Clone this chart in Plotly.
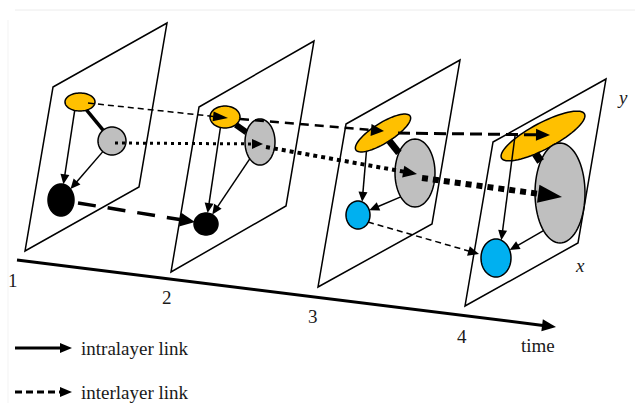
import math
import plotly.graph_objects as go

W, H = 635, 403

# ---- layer planes (corners: top-left, top-right, bottom-right, bottom-left) ----
plane_tl = [(53, 87), (199, 107), (346, 124), (493, 142)]
plane_tr = [(167, 23), (314, 41), (460, 60), (606, 79)]
plane_br = [(139, 187), (286, 206), (432, 224), (578, 243)]
plane_bl = [(25, 251), (171, 272), (318, 287), (465, 306)]

# ---- nodes ----
node_names = ["y1", "g1", "k1", "y2", "g2", "k2", "y3", "g3", "b3", "y4", "g4", "b4"]
node_cx = [80, 112, 61, 225, 260, 206, 383, 415, 358, 543, 560, 496]
node_cy = [102, 141, 200, 117, 142, 224, 133, 173, 215, 136, 193, 258]
node_rx = [15, 14, 13, 15, 15, 12, 32, 20, 12, 47, 25, 15]
node_ry = [9, 14, 16, 11, 23, 11, 10, 34, 14, 13, 50, 19]
node_rot = [0, 0, 0, 0, 0, 0, -32, 0, 0, -28, 0, 0]
YEL, GRY, BLK, BLU = "#FFC000", "#BFBFBF", "#000000", "#00B0F0"
node_color = [YEL, GRY, BLK, YEL, GRY, BLK, YEL, GRY, BLU, YEL, GRY, BLU]

# ---- intralayer links: (src, dst, src offset, dst offset, width, arrow) ----
intra_src = ["y1", "g1", "y2", "g2", "y3", "g3", "y4", "g4", "y1", "y2", "y3", "y4"]
intra_dst = ["k1", "k1", "k2", "k2", "b3", "b3", "b4", "b4", "g1", "g2", "g3", "g4"]
intra_soff = [(-4, 0), (0, 0), (-3, 0), (-3, 6), (-15, 0), (-5, 20), (-28, 0), (-12, 35),
              (0, 0), (0, 0), (0, 0), (-14, 8)]
intra_toff = [(0, 0), (0, 0), (0, 0), (0, 0), (3, 0), (0, 0), (3, 0), (0, 0),
              (0, 0), (0, 0), (0, 0), (-15, -25)]
intra_width = [1.5, 1.5, 1.5, 1.5, 1.5, 1.5, 1.5, 1.5, 3.5, 6, 7, 8]
intra_arrow = [True] * 8 + [False] * 4

# ---- interlayer links ----
inter_src = ["y1", "y2", "y3", "g1", "g2", "g3", "k1", "b3"]
inter_dst = ["y2", "y3", "y4", "g2", "g3", "g4", "k2", "b4"]
inter_soff = [(8, 1), (15, 2), (15, 0), (3, 2), (6, 5), (7, 5), (17, 3), (10, 7)]
inter_toff = [(3, 1), (1, -2), (7, -1), (3, 2), (2, 1), (2, 4), (-11, -2), (-17, -4)]
inter_width = [1.5, 2.5, 3, 3, 4, 6, 3.5, 1.5]
inter_dash = ["6px,4px", "9px,6px", "12px,6px", "3px,4px", "4px,4px", "6px,5px",
              "18px,12px", "6px,4px"]
inter_head = [(15, 5), (13, 6), (14, 6), (11, 5), (14, 6), (24, 9), (15, 7), (11, 5)]

# ---- time axis and labels ----
time_start = (17, 260)
time_tip = (556, 327)
time_labels = ["1", "2", "3", "4"]
time_label_pos = [(13, 280), (167, 297), (313, 316), (462, 336)]
legend_texts = ["intralayer link", "interlayer link"]
legend_y = [348, 392]

FONT = "Liberation Serif, 'Times New Roman', Times, serif"
TXT = "#1a1a1a"

idx = {n: i for i, n in enumerate(node_names)}


def ell_pts(i, n=72):
    cx, cy, a, b = node_cx[i], node_cy[i], node_rx[i], node_ry[i]
    th = math.radians(node_rot[i])
    pts = []
    for k in range(n):
        t = 2 * math.pi * k / n
        x = cx + a * math.cos(t) * math.cos(th) - b * math.sin(t) * math.sin(th)
        y = cy + a * math.cos(t) * math.sin(th) + b * math.sin(t) * math.cos(th)
        pts.append((x, y))
    return pts


def inside(i, p):
    dx, dy = p[0] - node_cx[i], p[1] - node_cy[i]
    th = math.radians(node_rot[i])
    lx = dx * math.cos(th) + dy * math.sin(th)
    ly = -dx * math.sin(th) + dy * math.cos(th)
    return (lx / node_rx[i]) ** 2 + (ly / node_ry[i]) ** 2 <= 1.0


def path_of(pts, close=True):
    s = "M " + " L ".join(f"{x:.2f},{y:.2f}" for x, y in pts)
    return s + (" Z" if close else "")


def head(p0, p1, L, hw):
    dx, dy = p1[0] - p0[0], p1[1] - p0[1]
    d = math.hypot(dx, dy)
    ux, uy = dx / d, dy / d
    bx, by = p1[0] - L * ux, p1[1] - L * uy
    nx, ny = -uy, ux
    tri = [p1, (bx + hw * nx, by + hw * ny), (bx - hw * nx, by - hw * ny)]
    return tri, (bx + 1 * ux, by + 1 * uy)


shapes = []

# faint page borders
shapes.append(dict(type="line", x0=15, y0=10, x1=635, y1=10,
                   line=dict(color="#ececec", width=1)))
shapes.append(dict(type="line", x0=8, y0=20, x1=8, y1=403,
                   line=dict(color="#f3f3f3", width=1)))

# planes
for tl, tr, br, bl in zip(plane_tl, plane_tr, plane_br, plane_bl):
    shapes.append(dict(type="path", path=path_of([tl, tr, br, bl]),
                       line=dict(color="#000", width=1.5), fillcolor="rgba(0,0,0,0)"))

# time axis
tri, base = head(time_start, time_tip, 14, 6)
shapes.append(dict(type="line", x0=time_start[0], y0=time_start[1], x1=base[0], y1=base[1],
                   line=dict(color="#000", width=3)))
shapes.append(dict(type="path", path=path_of(tri), fillcolor="#000", line=dict(width=0)))

# nodes
for i in range(len(node_names)):
    shapes.append(dict(type="path", path=path_of(ell_pts(i)), fillcolor=node_color[i],
                       line=dict(color="#000", width=1.5)))

# intralayer links
for s, t, so, to, w, arr in zip(intra_src, intra_dst, intra_soff, intra_toff,
                                intra_width, intra_arrow):
    i, j = idx[s], idx[t]
    P = (node_cx[i] + so[0], node_cy[i] + so[1])
    Q = (node_cx[j] + to[0], node_cy[j] + to[1])
    N = 2000
    seg = [(P[0] + (Q[0] - P[0]) * k / N, P[1] + (Q[1] - P[1]) * k / N) for k in range(N + 1)]
    start = next(p for p in seg if not inside(i, p))
    end = next(p for p in reversed(seg) if not inside(j, p))
    if arr:
        tri, base = head(start, end, 10, 4.5)
        shapes.append(dict(type="line", x0=start[0], y0=start[1], x1=base[0], y1=base[1],
                           line=dict(color="#000", width=w)))
        shapes.append(dict(type="path", path=path_of(tri), fillcolor="#000", line=dict(width=0)))
    else:
        shapes.append(dict(type="line", x0=start[0], y0=start[1], x1=end[0], y1=end[1],
                           line=dict(color="#000", width=w)))

# interlayer links
for s, t, so, to, w, dsh, hd in zip(inter_src, inter_dst, inter_soff, inter_toff,
                                    inter_width, inter_dash, inter_head):
    i, j = idx[s], idx[t]
    P = (node_cx[i] + so[0], node_cy[i] + so[1])
    Q = (node_cx[j] + to[0], node_cy[j] + to[1])
    tri, base = head(P, Q, hd[0], hd[1])
    shapes.append(dict(type="line", x0=P[0], y0=P[1], x1=base[0], y1=base[1],
                       line=dict(color="#000", width=w, dash=dsh)))
    shapes.append(dict(type="path", path=path_of(tri), fillcolor="#000", line=dict(width=0)))

# legend arrows
for k, ly in enumerate(legend_y):
    p0, p1 = (15, ly), (72, ly)
    tri, base = head(p0, p1, 12, 5)
    ln = dict(color="#000", width=3)
    if k == 1:
        ln["dash"] = "7px,4px"
    shapes.append(dict(type="line", x0=p0[0], y0=p0[1], x1=base[0], y1=base[1], line=ln))
    shapes.append(dict(type="path", path=path_of(tri), fillcolor="#000", line=dict(width=0)))

annotations = []
for lab, (x, y) in zip(time_labels, time_label_pos):
    annotations.append(dict(x=x, y=y, text=lab, showarrow=False,
                            font=dict(family=FONT, size=19, color=TXT)))
annotations.append(dict(x=538, y=345, text="time", showarrow=False,
                        font=dict(family=FONT, size=19, color=TXT)))
annotations.append(dict(x=622, y=97, text="<i>y</i>", showarrow=False,
                        font=dict(family=FONT, size=19, color=TXT)))
annotations.append(dict(x=580, y=265, text="<i>x</i>", showarrow=False,
                        font=dict(family=FONT, size=19, color=TXT)))
for txt, ly in zip(legend_texts, legend_y):
    annotations.append(dict(x=79, y=ly, text=txt, showarrow=False, xanchor="left",
                            font=dict(family=FONT, size=19, color=TXT)))

fig = go.Figure()
fig.update_layout(
    width=W, height=H,
    margin=dict(l=0, r=0, t=0, b=0),
    paper_bgcolor="white", plot_bgcolor="white",
    xaxis=dict(range=[0, W], visible=False, fixedrange=True),
    yaxis=dict(range=[H, 0], visible=False, fixedrange=True),
    shapes=shapes, annotations=annotations, showlegend=False,
)
fig.write_html("out.html", config={"displayModeBar": False},
               post_script="document.body.style.margin='0';document.body.style.padding='0';")
